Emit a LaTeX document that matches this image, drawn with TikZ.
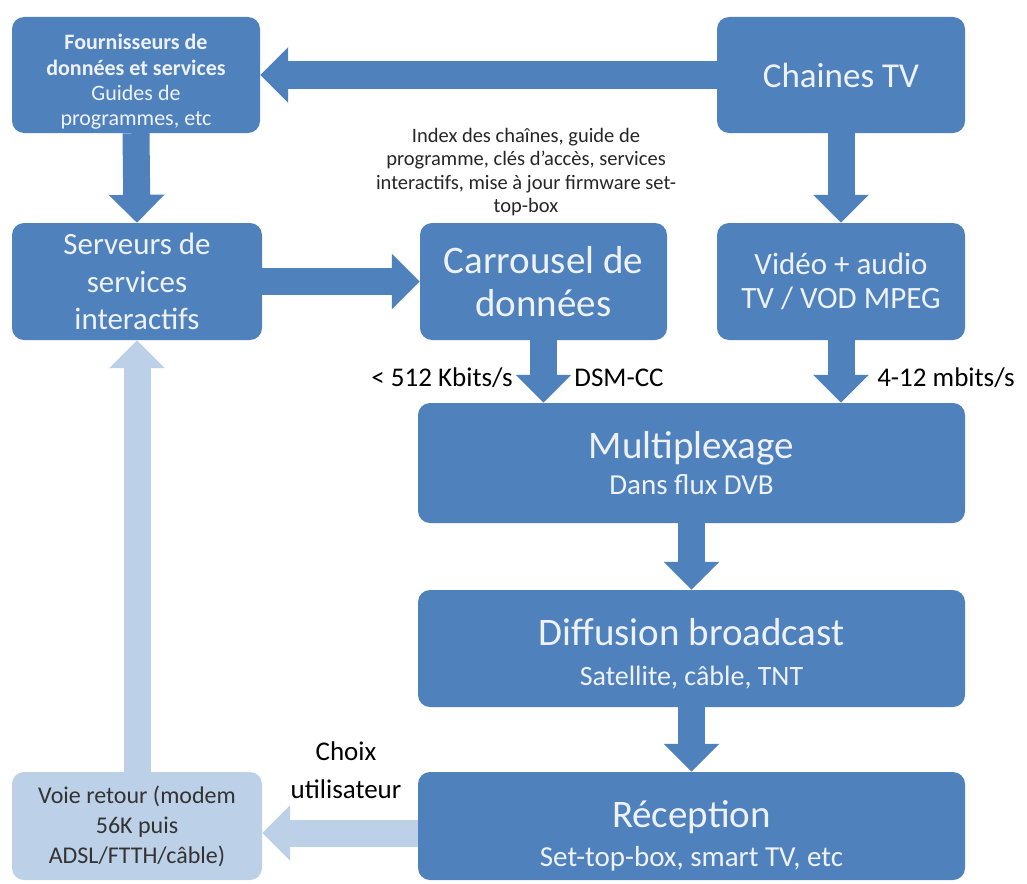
\documentclass[tikz,border=0pt]{standalone}
\usepackage{fontspec}
\setmainfont{Carlito}
\usetikzlibrary{arrows.meta}
\definecolor{boxblue}{HTML}{4F81BD}
\definecolor{paleblue}{HTML}{BCD0E8}
\definecolor{boxtext}{HTML}{EEF2F8}
\tikzset{
  bigbox/.style={rectangle, rounded corners=12pt, fill=boxblue, text=boxtext, align=center, inner sep=2pt},
  lightbox/.style={bigbox, fill=paleblue, text=black!80},
  blockarrow/.style={draw=boxblue, line width=27pt, -{Triangle[width=54pt,length=28pt]}},
  lightarrow/.style={blockarrow, draw=paleblue},
  ratelabel/.style={text=black, align=center, font=\fontsize{27}{32}\selectfont}
}
% title line pushed down by extra room above it
\newcommand{\boxtitle}[2]{{\fontsize{39}{42}\selectfont\raisebox{0pt}[\dimexpr\height+#1\relax]{#2}}}
\begin{document}
\begin{tikzpicture}[x=1pt,y=-1pt]
    \useasboundingbox (0,0) rectangle (1027,883);

    % top row
    \node[bigbox, minimum width=248pt, minimum height=116pt, font=\fontsize{22}{25.3}\selectfont] (fourn) at (136,75)
      {\raisebox{0pt}[\dimexpr\height+14pt\relax]{\textbf{Fournisseurs de}}\\\textbf{données et services}\\Guides de\\programmes, etc};
    \node[bigbox, minimum width=248pt, minimum height=116pt, font=\fontsize{35}{40}\selectfont] (chaines) at (841,75) {Chaines TV};

    % second row
    \node[bigbox, minimum width=250pt, minimum height=117pt, font=\fontsize{31}{37.5}\selectfont] (serveurs) at (137,281.5)
      {Serveurs de\\services\\interactifs};
    \node[bigbox, minimum width=247pt, minimum height=117pt, font=\fontsize{39}{43}\selectfont] (carrousel) at (543.5,281.5)
      {Carrousel de\\données};
    \node[bigbox, minimum width=248pt, minimum height=117pt, font=\fontsize{31}{34}\selectfont] (video) at (841,281.5)
      {Vidéo + audio\\TV / VOD MPEG};
    \node[text=black!85, align=center, font=\fontsize{20.5}{23.3}\selectfont] (index) at (526,172)
      {Index des chaînes, guide de\\programme, clés d’accès, services\\interactifs, mise à jour firmware set-\\top-box};

    % chain of wide boxes
    \node[bigbox, minimum width=547pt, minimum height=120pt, font=\fontsize{29}{32}\selectfont] (multiplex) at (691.5,463)
      {\boxtitle{0pt}{Multiplexage}\\[4pt]Dans flux DVB};
    \node[bigbox, minimum width=547pt, minimum height=117pt, font=\fontsize{28}{32}\selectfont] (diffusion) at (691.5,648.5)
      {\boxtitle{10pt}{Diffusion broadcast}\\[8pt]Satellite, câble, TNT};
    \node[bigbox, minimum width=547pt, minimum height=108pt, font=\fontsize{29}{32}\selectfont] (reception) at (691.5,826)
      {\boxtitle{19pt}{Réception}\\[7pt]Set-top-box, smart TV, etc};
    \node[lightbox, minimum width=250pt, minimum height=108pt, font=\fontsize{24}{30}\selectfont] (voie) at (137,826)
      {Voie retour (modem\\56K puis\\ADSL/FTTH/câble)};

    % labels
    \node[ratelabel] (debit1) at (442,378) {< 512 Kbits/s};
    \node[ratelabel] (dsmcc) at (619,378) {DSM-CC};
    \node[ratelabel] (debit2) at (946,378) {4-12 mbits/s};
    \node[ratelabel, font=\fontsize{27}{38}\selectfont] (choix) at (346,770) {Choix\\utilisateur};

    % connectors
    \draw[blockarrow] (chaines.west) -- (fourn.east);
    \draw[blockarrow] (fourn.south) -- (serveurs.north);
    \draw[blockarrow] (serveurs.east) -- (carrousel.west);
    \draw[blockarrow] (chaines.south) -- (video.north);
    \draw[blockarrow] (carrousel.south) -- (carrousel.south |- multiplex.north);
    \draw[blockarrow] (video.south) -- (video.south |- multiplex.north);
    \draw[blockarrow] (multiplex.south) -- (diffusion.north);
    \draw[blockarrow] (diffusion.south) -- (reception.north);
    \draw[lightarrow] ([yshift=-7pt]reception.west) -- ([yshift=-7pt]voie.east);
    \draw[lightarrow] (voie.north) -- (serveurs.south);

  \end{tikzpicture}
\end{document}
